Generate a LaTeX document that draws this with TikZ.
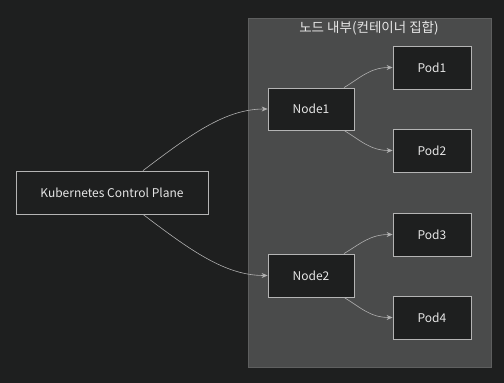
\documentclass[tikz,border=0pt]{standalone}
\usepackage{fontspec}
\setmainfont{Noto Sans CJK KR}
\usetikzlibrary{arrows.meta}
\definecolor{bgdark}{HTML}{1E1F1F}
\definecolor{clusterfill}{HTML}{4A4B4B}
\definecolor{clusterline}{HTML}{5E5F5F}
\definecolor{boxfill}{HTML}{1E1F1F}
\definecolor{boxline}{HTML}{B4B4B4}
\definecolor{txt}{HTML}{E6E6E6}
\definecolor{edge}{HTML}{B0B0B0}
\begin{document}
\begin{tikzpicture}[x=1pt,y=-1pt,
  box/.style={draw=boxline,fill=boxfill,line width=0.8pt,text=txt,
    font=\fontsize{12}{13}\selectfont,inner sep=0pt},
  link/.style={draw=edge,line width=0.6pt,-{Stealth[length=6pt,width=5pt]}}]%
% background and cluster
\fill[bgdark] (0,0) rectangle (504,383);
\useasboundingbox (0,0) rectangle (504,383);
\draw[fill=clusterfill,draw=clusterline,line width=0.8pt] (248,18) rectangle (491,367);
\node[text=txt,font=\fontsize{13.5}{14}\selectfont] (title) at (369,28) {노드 내부(컨테이너 집합)};
% boxes
\node[box,minimum width=192pt,minimum height=43pt] (cp) at (112,192.5) {Kubernetes Control Plane};
\node[box,minimum width=86pt,minimum height=42pt] (node1) at (311,109) {Node1};
\node[box,minimum width=86pt,minimum height=43pt] (node2) at (311,275.5) {Node2};
\node[box,minimum width=78pt,minimum height=43pt] (pod1) at (432,67.5) {Pod1};
\node[box,minimum width=78pt,minimum height=43pt] (pod2) at (432,150.5) {Pod2};
\node[box,minimum width=78pt,minimum height=43pt] (pod3) at (432,234.5) {Pod3};
\node[box,minimum width=78pt,minimum height=43pt] (pod4) at (432,317.5) {Pod4};
% links
\coordinate (cpT) at ([xshift=31pt]cp.north);
\coordinate (cpB) at ([xshift=31pt]cp.south);
\coordinate (n1T) at ([xshift=33pt]node1.north);
\coordinate (n1B) at ([xshift=33pt]node1.south);
\coordinate (n2T) at ([xshift=33pt]node2.north);
\coordinate (n2B) at ([xshift=33pt]node2.south);
\path[link] (cpT) .. controls (190,135) and (225,109) .. (node1.west);
\path[link] (cpB) .. controls (190,250) and (225,275.5) .. (node2.west);
\path[link] (n1T) .. controls (360,78) and (370,67.5) .. (pod1.west);
\path[link] (n1B) .. controls (360,140) and (370,150.5) .. (pod2.west);
\path[link] (n2T) .. controls (360,244) and (370,234.5) .. (pod3.west);
\path[link] (n2B) .. controls (360,307) and (370,317.5) .. (pod4.west);
\end{tikzpicture}
\end{document}
